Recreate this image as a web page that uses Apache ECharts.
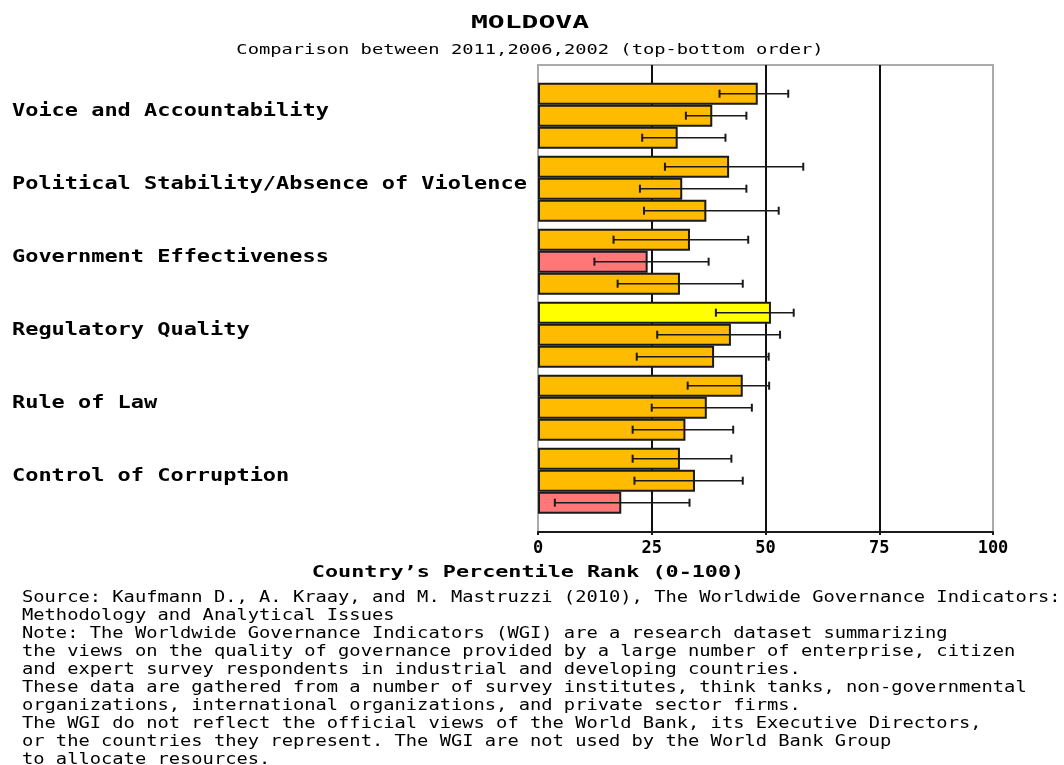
<!DOCTYPE html>
<html>
<head>
<meta charset="utf-8">
<script src="https://cdn.jsdelivr.net/npm/echarts@6/dist/echarts.min.js"></script>
<style>html,body{margin:0;padding:0;background:#fff}#c{width:1064px;height:765px}</style>
</head>
<body>
<div id="c"></div>
<script>
// ---- data ----
const categories = ['Voice and Accountability', 'Political Stability/Absence of Violence', 'Government Effectiveness', 'Regulatory Quality', 'Rule of Law', 'Control of Corruption'];
const years = ['2011', '2006', '2002'];
const rank2011 = [48.3, 42.0, 33.4, 51.2, 45.0, 31.2];
const rank2006 = [38.3, 31.7, 24.1, 42.4, 37.1, 34.5];
const rank2002 = [30.7, 37.0, 31.2, 38.7, 32.4, 18.3];
const low2011 = [39.9, 27.9, 16.6, 39.1, 32.9, 20.8];
const high2011 = [55.0, 58.3, 46.2, 56.2, 50.8, 42.5];
const low2006 = [32.5, 22.4, 12.4, 26.2, 25.0, 21.2];
const high2006 = [45.8, 45.8, 37.5, 53.2, 47.0, 45.0];
const low2002 = [22.9, 23.3, 17.5, 21.7, 20.8, 3.7];
const high2002 = [41.2, 52.9, 45.0, 50.7, 42.9, 33.3];
const xTicks = [0, 25, 50, 75, 100];
const titleText = 'MOLDOVA';
const subtitleText = 'Comparison between 2011,2006,2002 (top-bottom order)';
const axisTitle = 'Country\u2019s Percentile Rank (0-100)';
const footerLines = [
 'Source: Kaufmann D., A. Kraay, and M. Mastruzzi (2010), The Worldwide Governance Indicators:',
 'Methodology and Analytical Issues',
 'Note: The Worldwide Governance Indicators (WGI) are a research dataset summarizing',
 'the views on the quality of governance provided by a large number of enterprise, citizen',
 'and expert survey respondents in industrial and developing countries.',
 'These data are gathered from a number of survey institutes, think tanks, non-governmental',
 'organizations, international organizations, and private sector firms.',
 'The WGI do not reflect the official views of the World Bank, its Executive Directors,',
 'or the countries they represent. The WGI are not used by the World Bank Group',
 'to allocate resources.'
];

// ---- build ----
const MONO = '"DejaVu Sans Mono", "Liberation Mono", monospace';
const CAT_GAP = 0.096;
function rankColor(v) {
  if (v < 10) return '#CC0000';
  if (v < 25) return '#FF7777';
  if (v < 50) return '#FFBB00';
  if (v < 75) return '#FFFF00';
  if (v < 90) return '#99CC66';
  return '#009900';
}
const ranks = [rank2011, rank2006, rank2002];
const lows = [low2011, low2006, low2002];
const highs = [high2011, high2006, high2002];

const barSeries = years.map((y, s) => ({
  name: y, type: 'bar', xAxisIndex: 1, yAxisIndex: 1,
  barGap: 0, barCategoryGap: (CAT_GAP * 100) + '%',
  data: ranks[s],
  itemStyle: { color: p => rankColor(p.value), borderColor: '#1a1a1a', borderWidth: 2 },
  silent: true, z: 10
}));

const errData = [];
years.forEach((y, s) => categories.forEach((c, i) => errData.push([lows[s][i], highs[s][i], i, s])));

const errSeries = {
  type: 'custom', xAxisIndex: 1, yAxisIndex: 1, z: 12, silent: true, clip: false,
  data: errData,
  encode: { x: [0, 1], y: 2 },
  renderItem: function (params, api) {
    const cat = api.value(2), s = api.value(3);
    const p1 = api.coord([api.value(0), cat]);
    const p2 = api.coord([api.value(1), cat]);
    const band = api.size([0, 1])[1];
    const barH = band * (1 - CAT_GAP) / 3;
    const y = p1[1] + (s - 1) * barH;
    const st = { stroke: '#1a1a1a', lineWidth: 1.6 };
    return { type: 'group', children: [
      { type: 'line', shape: { x1: p1[0], y1: y, x2: p2[0], y2: y }, style: st },
      { type: 'line', shape: { x1: p1[0], y1: y - 4, x2: p1[0], y2: y + 4 }, style: { stroke: '#1a1a1a', lineWidth: 2 } },
      { type: 'line', shape: { x1: p2[0], y1: y - 4, x2: p2[0], y2: y + 4 }, style: { stroke: '#1a1a1a', lineWidth: 2 } }
    ]};
  }
};

const labelSeries = {
  type: 'custom', xAxisIndex: 1, yAxisIndex: 1, z: 12, silent: true, clip: false,
  data: categories.map((c, i) => [0, i]),
  encode: { x: 0, y: 1 },
  renderItem: function (params, api) {
    const p = api.coord([0, api.value(1)]);
    return { type: 'text', x: p[0] - 526, y: p[1] - 4, scaleX: 1.29,
      style: { text: categories[params.dataIndex], font: 'bold 17px ' + MONO, fill: '#000', align: 'left', verticalAlign: 'middle' } };
  }
};

const chart = echarts.init(document.getElementById('c'), null, { renderer: 'canvas' });
chart.setOption({
  animation: false,
  backgroundColor: '#fff',
  grid: [
    { left: 538, right: 71, top: 65, bottom: 233, show: true, borderColor: '#aaaaaa', borderWidth: 2, backgroundColor: 'transparent', z: 0 },
    { left: 538, right: 71, top: 79.2, bottom: 247.8 }
  ],
  xAxis: [
    { type: 'value', gridIndex: 0, min: xTicks[0], max: xTicks[xTicks.length - 1], interval: 25, z: 1,
      axisLine: { show: true, lineStyle: { color: '#1a1a1a', width: 2 } },
      axisTick: { show: true, length: 3, lineStyle: { color: '#1a1a1a', width: 2 } },
      axisLabel: { color: '#000', fontFamily: MONO, fontWeight: 'bold', fontSize: 17, margin: 8 },
      splitLine: { show: true, showMinLine: false, showMaxLine: false, lineStyle: { color: '#111', width: 2 } } },
    { type: 'value', gridIndex: 1, min: 0, max: 100, show: false, splitLine: { show: false } }
  ],
  yAxis: [
    { type: 'value', gridIndex: 0, show: false, splitLine: { show: false } },
    { type: 'category', gridIndex: 1, data: categories, inverse: true, show: false }
  ],
  graphic: [
    { type: 'text', x: 530, y: 24, scaleX: 1.65, style: { text: titleText, font: 'bold 17px ' + MONO, fill: '#000', align: 'center', verticalAlign: 'middle' } },
    { type: 'text', x: 530, y: 50, scaleX: 1.34, style: { text: subtitleText, font: '14px ' + MONO, fill: '#000', align: 'center', verticalAlign: 'middle' } },
    { type: 'text', x: 528, y: 573, scaleX: 1.36, style: { text: axisTitle, font: 'bold 16px ' + MONO, fill: '#000', align: 'center', verticalAlign: 'middle' } },
    { type: 'text', x: 22, y: 589, scaleX: 1.25, style: { text: footerLines.join('\n'), font: '15px ' + MONO, lineHeight: 18, fill: '#000', align: 'left', verticalAlign: 'top' } }
  ],
  series: [...barSeries, errSeries, labelSeries]
});
</script>
</body>
</html>
